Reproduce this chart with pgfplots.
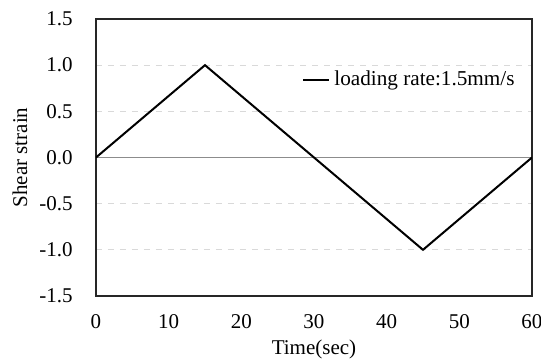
\documentclass[border=0pt]{standalone}
\usepackage{fontspec}
\setmainfont{Liberation Serif}
\usepackage{pgfplots}
\pgfplotsset{compat=1.18}
\begin{document}
\fontsize{10.5pt}{12pt}\selectfont
\begin{tikzpicture}
\begin{axis}[
  scale only axis,
  width=218pt, height=138.5pt,
  xmin=0, xmax=60, ymin=-1.5, ymax=1.5,
  xtick={0,10,...,60},
  ytick={-1.5,-1,...,1.5},
  yticklabel style={/pgf/number format/fixed, /pgf/number format/fixed zerofill, /pgf/number format/precision=1},
  /pgf/number format/assume math mode=true,
  tick style={draw=none},
  axis line style={draw=black!85, line width=0.6pt},
  ymajorgrids,
  grid style={draw=black!15, dashed, line width=0.5pt},
  xticklabel style={anchor=center, inner sep=0pt, yshift=-13pt},
  yticklabel style={anchor=east, inner sep=0pt, xshift=-11.5pt},
  xlabel={Time(sec)},
  ylabel={Shear strain},
  xlabel style={at={(axis description cs:0.5,0)}, anchor=center, yshift=-26.5pt},
  ylabel style={at={(axis description cs:0,0.5)}, anchor=center, yshift=38pt},
  legend style={draw=none, fill=none, at={(1,0.78)}, anchor=east, xshift=-6.5pt, inner sep=0pt,
    legend cell align=left, font=\fontsize{10.6pt}{12.5pt}\selectfont},
  legend image code/.code={\draw[#1, line width=1pt] (0pt,0pt) -- (13pt,0pt);},
  every axis label/.append style={font=\fontsize{10.5pt}{12pt}\selectfont},
  ticklabel style={font=\fontsize{10.5pt}{12pt}\selectfont},
]
\addplot[black!45, line width=0.5pt, forget plot] coordinates {(0,0) (60,0)};
\addplot[black, line width=1pt] coordinates {(0,0) (15,1) (45,-1) (60,0)};
\addlegendentry{loading rate:1.5mm/s}
\end{axis}
\pgfresetboundingbox
\path[use as bounding box] ([xshift=-48pt,yshift=-32pt]current axis.south west) rectangle ([xshift=4.5pt,yshift=9.5pt]current axis.north east);
\end{tikzpicture}
\end{document}
